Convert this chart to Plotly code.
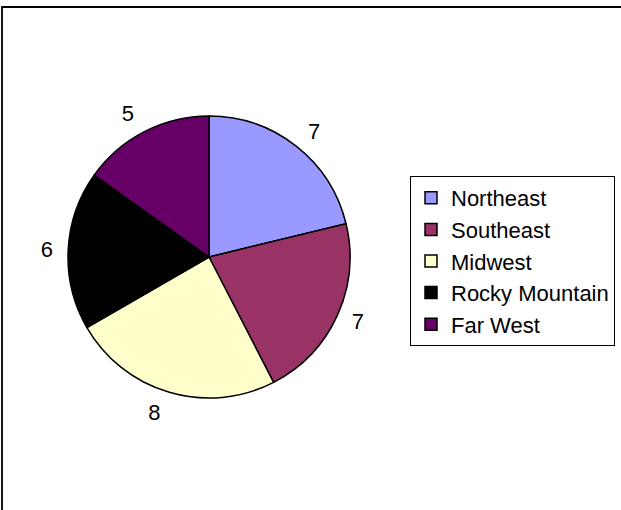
import plotly.graph_objects as go

regions = ["Northeast", "Southeast", "Midwest", "Rocky Mountain", "Far West"]
counts = [7, 7, 8, 6, 5]
colors = ["#9999FF", "#993366", "#FFFFCC", "#000000", "#660066"]

W, H = 621, 510
cx, cy = 209, 257
r_pie = 141     # radius of the drawn pie
r_text = 150    # radius used to place the outside value labels

def dom(r):
    return dict(x=[(cx - r) / W, (cx + r) / W],
                y=[1 - (cy + r) / H, 1 - (cy - r) / H])

FONT = "Liberation Sans, Arial, Helvetica, sans-serif"

fig = go.Figure()
fig.add_trace(go.Pie(
    labels=regions, values=counts, sort=False, direction="clockwise", rotation=0,
    marker=dict(colors=colors, line=dict(color="black", width=1.5)),
    textinfo="none", domain=dom(r_pie), hoverinfo="label+value",
))
fig.add_trace(go.Pie(
    labels=regions, values=counts, sort=False, direction="clockwise", rotation=0,
    marker=dict(colors=["rgba(0,0,0,0)"] * len(regions), line=dict(width=0)),
    textinfo="value", textposition="outside",
    textfont=dict(family=FONT, size=22, color="black"),
    domain=dom(r_text), hoverinfo="skip", showlegend=False,
))

fig.update_layout(
    width=W, height=H, margin=dict(l=0, r=0, t=0, b=0),
    paper_bgcolor="white", plot_bgcolor="white",
    font=dict(family=FONT, size=22, color="black"),
    legend=dict(x=615 / W, y=1 - 176 / H, xanchor="right", yanchor="top",
                bordercolor="black", borderwidth=1, bgcolor="white",
                font=dict(family=FONT, size=22, color="black"), itemwidth=30),
    shapes=[dict(type="rect", xref="paper", yref="paper",
                 x0=2 / W, x1=1.05, y0=-0.05, y1=1 - 7 / H,
                 line=dict(color="black", width=1.8))],
)

fig.write_html("out.html", config={"displayModeBar": False},
               post_script="document.body.style.margin='0';")
